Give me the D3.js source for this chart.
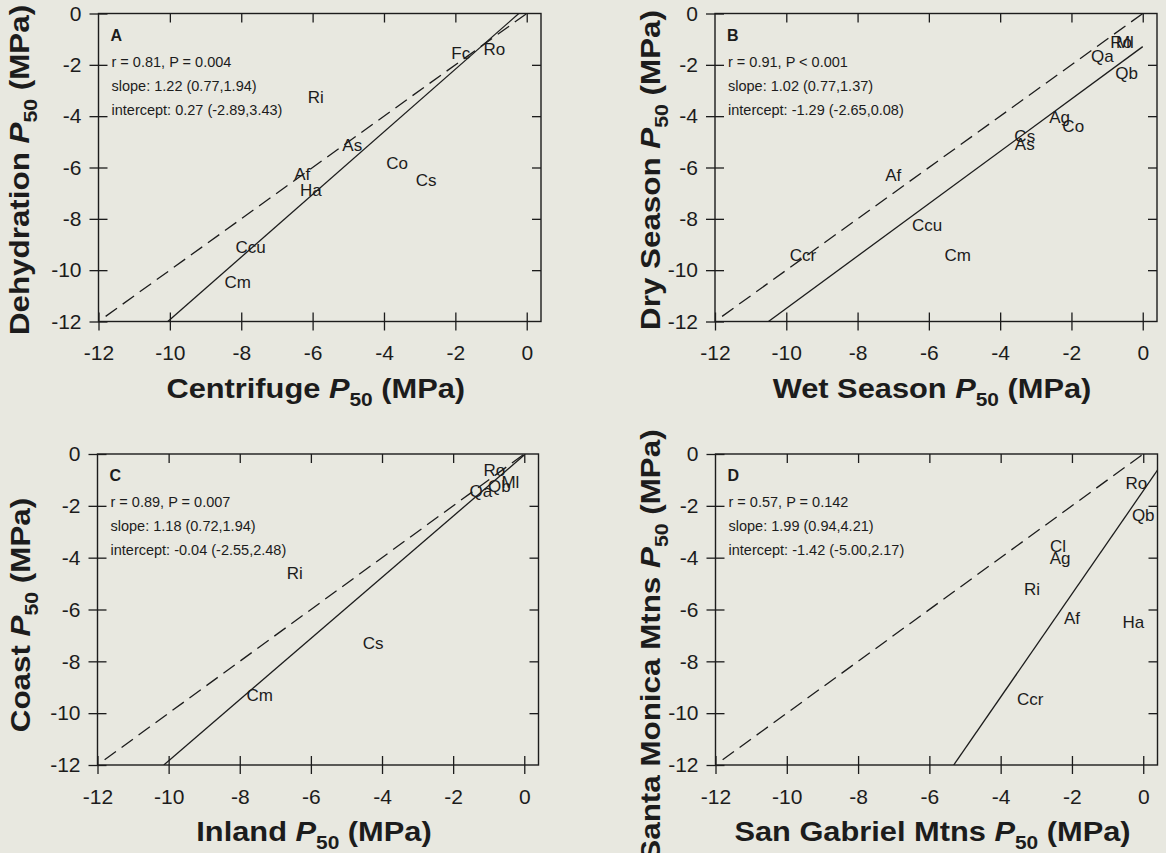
<!DOCTYPE html>
<html><head><meta charset="utf-8">
<script src="https://cdn.jsdelivr.net/npm/d3@7"></script>
<style>
body{margin:0;background:#e8e8e0;}
svg{display:block;}
text{font-family:"Liberation Sans",Arial,sans-serif;fill:#1c1c1c;}
</style></head><body>
<svg id="chart" width="1166" height="853"></svg>
<script>
// ---------- data ----------
const panelLetters = ["A","B","C","D"];
const xTitleNames = ["Centrifuge","Wet Season","Inland","San Gabriel Mtns"];
const yTitleNames = ["Dehydration","Dry Season","Coast","Santa Monica Mtns"];
const rTexts = ["r = 0.81, P = 0.004","r = 0.91, P < 0.001","r = 0.89, P = 0.007","r = 0.57, P = 0.142"];
const slopeTexts = ["slope: 1.22 (0.77,1.94)","slope: 1.02 (0.77,1.37)","slope: 1.18 (0.72,1.94)","slope: 1.99 (0.94,4.21)"];
const interceptTexts = ["intercept: 0.27 (-2.89,3.43)","intercept: -1.29 (-2.65,0.08)","intercept: -0.04 (-2.55,2.48)","intercept: -1.42 (-5.00,2.17)"];
const slopes = [1.22, 1.02, 1.18, 1.99];
const intercepts = [0.27, -1.29, -0.04, -1.42];
const fitXMax = [0.4, 0, 0, 0.4];
const tickValues = [-12,-10,-8,-6,-4,-2,0];
const axisDomainX = [-12, 0.4];
const axisDomainY = [-12, 0];

const speciesA = ["Fc","Ro","Ri","As","Co","Cs","Af","Ha","Ccu","Cm"];
const xA = [-1.85,-0.91,-5.91,-4.89,-3.63,-2.82,-6.29,-6.05,-7.74,-8.10];
const yA = [-1.54,-1.37,-3.25,-5.13,-5.81,-6.50,-6.24,-6.86,-9.11,-10.47];

const speciesB = ["Ro","Ml","Qa","Qb","Ag","Co","Cs","As","Af","Ccu","Ccr","Cm"];
const xB = [-0.61,-0.50,-1.13,-0.45,-2.33,-1.95,-3.31,-3.31,-7.00,-6.05,-9.53,-5.19];
const yB = [-1.09,-1.09,-1.67,-2.32,-4.04,-4.37,-4.78,-5.08,-6.27,-8.22,-9.42,-9.42];

const speciesC = ["Ro","Qa","Qb","Ml","Ri","Cs","Cm"];
const xC = [-0.84,-1.22,-0.70,-0.39,-6.45,-4.25,-7.44];
const yC = [-0.63,-1.41,-1.23,-1.06,-4.57,-7.29,-9.31];

const speciesD = ["Ro","Qb","Cl","Ag","Ri","Af","Ha","Ccr"];
const xD = [-0.19,0.00,-2.39,-2.33,-3.12,-2.00,-0.28,-3.17];
const yD = [-1.10,-2.35,-3.55,-4.02,-5.22,-6.31,-6.48,-9.44];

const speciesAll = [speciesA, speciesB, speciesC, speciesD];
const xAll = [xA, xB, xC, xD];
const yAll = [yA, yB, yC, yD];

// ---------- layout ----------
const layout = [
  {left: 98.5, top: 13.5, width: 442.5, height: 308, yTitleX: 29, yTitleCY: 170},
  {left: 715,  top: 13.5, width: 442,   height: 308, yTitleX: 660, yTitleCY: 170},
  {left: 97.5, top: 454,  width: 441,   height: 311, yTitleX: 30, yTitleCY: 615},
  {left: 715.5,top: 454,  width: 442,   height: 311, yTitleX: 660, yTitleCY: 645}
];
const ink = "#1c1c1c";
const fontFam = '"Liberation Sans",Arial,sans-serif';
const svg = d3.select("#chart");
svg.append("rect").attr("width",1166).attr("height",853).attr("fill","#e8e8e0");

function titleText(sel, name, size) {
  sel.append("tspan").text(name + " ");
  sel.append("tspan").attr("font-style","italic").text("P");
  sel.append("tspan").attr("font-size", Math.round(size*0.68)).attr("dy", size*0.3).text("50");
  sel.append("tspan").attr("dy", -size*0.3).text(" (MPa)");
}
const fmt = d => String(d);

panelLetters.forEach((letter, i) => {
  const L = layout[i];
  const g = svg.append("g").attr("transform", `translate(${L.left},${L.top})`);
  const x = d3.scaleLinear().domain(axisDomainX).range([0, L.width]);
  const y = d3.scaleLinear().domain(axisDomainY).range([L.height, 0]);

  const cid = "clip" + i;
  g.append("clipPath").attr("id", cid).append("rect")
    .attr("width", L.width).attr("height", L.height);

  g.append("rect").attr("width", L.width).attr("height", L.height)
    .attr("fill","none").attr("stroke", ink).attr("stroke-width", 1.4);

  const gb = g.append("g").attr("transform", `translate(0,${L.height})`)
    .call(d3.axisBottom(x).tickValues(tickValues).tickSize(9).tickPadding(15).tickFormat(fmt));
  gb.select(".domain").remove();
  gb.selectAll(".tick line").attr("y1",-9).attr("y2",9).attr("stroke", ink).attr("stroke-width",1.3);
  gb.selectAll(".tick text").attr("font-size",21).attr("font-family",fontFam).attr("fill",ink);

  const gl = g.append("g")
    .call(d3.axisLeft(y).tickValues(tickValues).tickSize(9).tickPadding(8).tickFormat(fmt));
  gl.select(".domain").remove();
  gl.selectAll(".tick line").attr("x1",-9).attr("x2",9).attr("stroke", ink).attr("stroke-width",1.3);
  gl.selectAll(".tick text").attr("font-size",21).attr("font-family",fontFam).attr("fill",ink);

  const gt = g.append("g").call(d3.axisTop(x).tickValues(tickValues.slice(1)).tickSize(-9).tickFormat(""));
  gt.select(".domain").remove();
  gt.selectAll(".tick line").attr("stroke", ink).attr("stroke-width",1.3);
  const gr = g.append("g").attr("transform", `translate(${L.width},0)`)
    .call(d3.axisRight(y).tickValues(tickValues.slice(1,-1)).tickSize(-9).tickFormat(""));
  gr.select(".domain").remove();
  gr.selectAll(".tick line").attr("stroke", ink).attr("stroke-width",1.3);

  // 1:1 dashed line
  g.append("line")
    .attr("x1", x(-11.8)).attr("y1", y(-11.8)).attr("x2", x(0)).attr("y2", y(0))
    .attr("stroke", ink).attr("stroke-width",1.3).attr("stroke-dasharray","14,7");

  // fitted line
  const b = slopes[i], a = intercepts[i];
  const x0 = (-12 - a) / b;
  g.append("line").attr("clip-path", `url(#${cid})`)
    .attr("x1", x(x0)).attr("y1", y(-12))
    .attr("x2", x(fitXMax[i])).attr("y2", y(a + b*fitXMax[i]))
    .attr("stroke", ink).attr("stroke-width",1.3);

  // species labels
  const sp = speciesAll[i], xs = xAll[i], ys = yAll[i];
  g.selectAll("text.sp").data(sp).enter().append("text").attr("class","sp")
    .attr("x", (d,j) => x(xs[j])).attr("y", (d,j) => y(ys[j]))
    .attr("text-anchor","middle").attr("dy","0.36em").attr("font-size",17)
    .text(d => d);

  // annotations
  g.append("text").attr("x", 12).attr("y", 27).attr("font-size",16).attr("font-weight","bold").text(letter);
  [rTexts[i], slopeTexts[i], interceptTexts[i]].forEach((t, k) => {
    g.append("text").attr("x", 13).attr("y", 53 + 24*k).attr("font-size",14.5).text(t);
  });

  // x title
  const xt = svg.append("text")
    .attr("transform", `translate(${L.left + L.width/2 - 4},${L.top + L.height + 76}) scale(1.1,1)`)
    .attr("text-anchor","middle").attr("font-size",28).attr("font-weight","bold");
  titleText(xt, xTitleNames[i], 28);

  // y title
  const yt = svg.append("text")
    .attr("transform", `translate(${L.yTitleX},${L.yTitleCY}) rotate(-90) scale(1.12,1)`)
    .attr("text-anchor","middle").attr("font-size",28).attr("font-weight","bold");
  titleText(yt, yTitleNames[i], 28);
});
</script>
</body></html>
